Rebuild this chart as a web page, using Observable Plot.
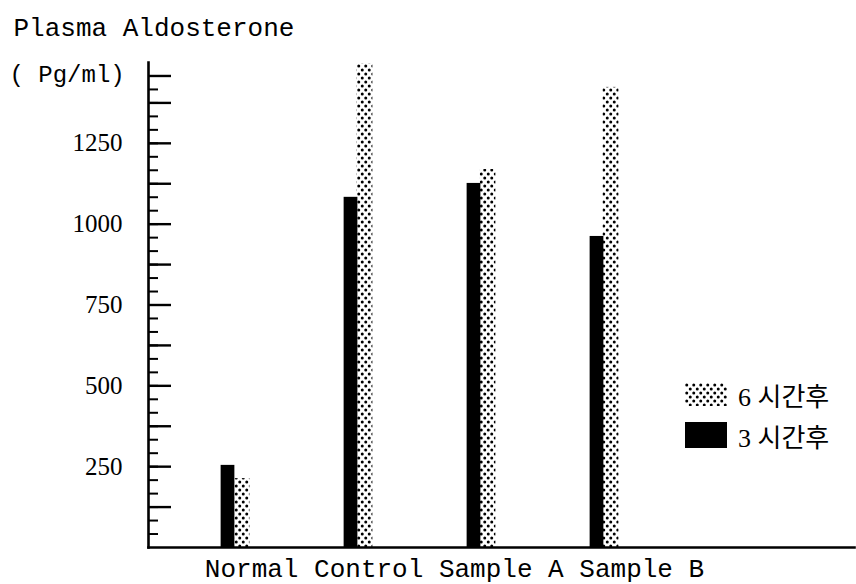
<!DOCTYPE html>
<html>
<head>
<meta charset="utf-8">
<script src="https://cdn.jsdelivr.net/npm/d3@7"></script>
<script src="https://cdn.jsdelivr.net/npm/@observablehq/plot@0.6"></script>
<style>
  html, body { margin: 0; padding: 0; background: #fff; }
  #wrap { position: relative; width: 856px; height: 584px; }
  #legend { position: absolute; left: 685px; top: 380px; font-family: "Liberation Serif", "Noto Sans CJK KR", serif; font-size: 26px; color: #000; }
  .row { display: flex; align-items: center; height: 28px; margin-bottom: 13px; }
  .row svg { margin-right: 11px; }
</style>
</head>
<body>
<div id="wrap"></div>
<script>
// ---- data ----
const categories = ["Normal", "Control", "Sample A", "Sample B"];
const after3h = [254, 1083, 1126, 962];
const after6h = [213, 1495, 1169, 1423];
const seriesLabels = ["6 시간후", "3 시간후"];
const labeledTicks = [250, 500, 750, 1000, 1250];
const majorTicks = [125, 250, 375, 500, 625, 750, 875, 1000, 1125, 1250, 1375, 1458.33];
const minorTicks = d3.range(1, 36).map(i => i * 125 / 3);
const titleText = "Plasma Aldosterone";
const unitText = "( Pg/ml)";

const rows = categories.map((c, i) => ({group: c, h3: after3h[i], h6: after6h[i]}));

const W = 856, H = 584, ML = 148, MR = 2, MT = 62, MB = 37;
const xRange = [172, 665];
const bw = (xRange[1] - xRange[0]) / categories.length;
const frameW = W - ML - MR;

function addPattern(sel, id) {
  const p = sel.append("pattern").attr("id", id).attr("patternUnits", "userSpaceOnUse")
    .attr("width", 7).attr("height", 8);
  p.append("rect").attr("width", 7).attr("height", 8).attr("fill", "white");
  p.append("circle").attr("cx", 1.75).attr("cy", 2).attr("r", 1.5).attr("fill", "black");
  p.append("circle").attr("cx", 5.25).attr("cy", 6).attr("r", 1.5).attr("fill", "black");
}

function defs() {
  const d = d3.create("svg:defs");
  addPattern(d, "dots");
  return d.node();
}

const chart = Plot.plot({
  width: W, height: H,
  marginLeft: ML, marginRight: MR, marginTop: MT, marginBottom: MB,
  style: {background: "white", fontFamily: "Liberation Serif", fontSize: "25px", color: "black"},
  x: {domain: categories, range: xRange, padding: 0, axis: null},
  y: {domain: [0, 1500]},
  marks: [
    defs,
    Plot.barY(rows, {x: "group", y: "h6", fill: "url(#dots)", insetLeft: bw / 2 - 1, insetRight: bw / 2 - 15}),
    Plot.barY(rows, {x: "group", y: "h3", fill: "black", insetLeft: bw / 2 - 14, insetRight: bw / 2}),
    Plot.ruleY(minorTicks, {stroke: "black", strokeWidth: 2, insetRight: frameW - 10}),
    Plot.ruleY(majorTicks, {stroke: "black", strokeWidth: 2.4, insetRight: frameW - 23}),
    Plot.axisY(labeledTicks, {tickSize: 0, tickPadding: 26, label: null, tickFormat: d => String(d), fontSize: 25, fontFamily: "Liberation Serif"}),
    Plot.frame({anchor: "left", stroke: "black", strokeWidth: 2.6}),
    Plot.frame({anchor: "bottom", stroke: "black", strokeWidth: 2.6}),
    Plot.text([categories.join(" ")], {frameAnchor: "bottom", lineAnchor: "middle", dx: -47, dy: 21, fontFamily: "Liberation Mono", fontSize: 26, fill: "black"}),
    Plot.text([titleText], {frameAnchor: "top-left", lineAnchor: "middle", textAnchor: "start", dx: -135, dy: -35, fontFamily: "Liberation Mono", fontSize: 26, fill: "black"}),
    Plot.text([unitText], {frameAnchor: "top-left", lineAnchor: "middle", textAnchor: "start", dx: -139, dy: 12, fontFamily: "Liberation Mono", fontSize: 24, fill: "black"})
  ]
});

const wrap = document.getElementById("wrap");
wrap.appendChild(chart);

// legend
const legend = document.createElement("div");
legend.id = "legend";
const fills = ["dots", "black"];
seriesLabels.forEach((lab, i) => {
  const row = document.createElement("div");
  row.className = "row";
  const sw = d3.create("svg").attr("width", 42).attr("height", i === 0 ? 23 : 26);
  if (fills[i] === "dots") {
    addPattern(sw.append("defs"), "ldots");
    sw.append("rect").attr("width", 42).attr("height", 23).attr("fill", "url(#ldots)");
  } else {
    sw.append("rect").attr("width", 42).attr("height", 26).attr("fill", "black");
  }
  row.appendChild(sw.node());
  const t = document.createElement("span");
  t.textContent = lab;
  row.appendChild(t);
  legend.appendChild(row);
});
wrap.appendChild(legend);
</script>
</body>
</html>
